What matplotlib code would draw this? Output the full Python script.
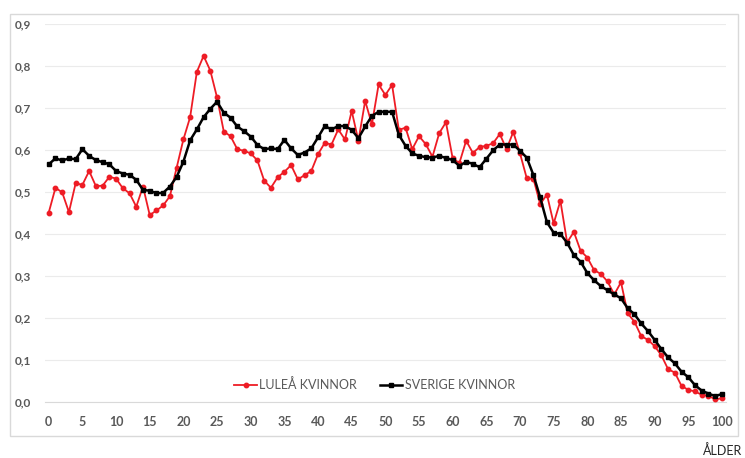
import matplotlib
matplotlib.use("Agg")
import matplotlib.pyplot as plt
import matplotlib.ticker as ticker
from matplotlib.patches import Rectangle

# Ages 0..100
ages = list(range(0, 101))

# LULEÅ KVINNOR (red)
lulea = [0.451, 0.510, 0.499, 0.452, 0.521, 0.517, 0.550, 0.514, 0.515, 0.536,
         0.532, 0.509, 0.497, 0.465, 0.513, 0.445, 0.456, 0.468, 0.490, 0.558,
         0.625, 0.678, 0.786, 0.824, 0.789, 0.725, 0.644, 0.633, 0.602, 0.598,
         0.592, 0.575, 0.527, 0.510, 0.535, 0.548, 0.564, 0.530, 0.540, 0.550,
         0.590, 0.617, 0.613, 0.649, 0.625, 0.693, 0.622, 0.717, 0.661, 0.756,
         0.731, 0.755, 0.648, 0.653, 0.602, 0.633, 0.614, 0.584, 0.640, 0.666,
         0.580, 0.569, 0.622, 0.593, 0.607, 0.610, 0.616, 0.638, 0.602, 0.643,
         0.592, 0.533, 0.531, 0.471, 0.494, 0.425, 0.479, 0.380, 0.405, 0.360,
         0.344, 0.314, 0.305, 0.287, 0.256, 0.285, 0.211, 0.191, 0.157, 0.148,
         0.133, 0.111, 0.078, 0.070, 0.038, 0.029, 0.025, 0.017, 0.015, 0.006,
         0.009]

# SVERIGE KVINNOR (black)
sverige = [0.566, 0.580, 0.575, 0.580, 0.578, 0.602, 0.586, 0.576, 0.571, 0.566,
           0.550, 0.544, 0.541, 0.529, 0.505, 0.503, 0.497, 0.498, 0.513, 0.536,
           0.572, 0.623, 0.649, 0.678, 0.698, 0.715, 0.689, 0.677, 0.656, 0.645,
           0.632, 0.612, 0.602, 0.604, 0.602, 0.624, 0.604, 0.588, 0.594, 0.604,
           0.630, 0.657, 0.649, 0.657, 0.657, 0.648, 0.628, 0.656, 0.681, 0.691,
           0.691, 0.691, 0.636, 0.610, 0.592, 0.586, 0.583, 0.582, 0.586, 0.581,
           0.576, 0.562, 0.572, 0.567, 0.559, 0.579, 0.599, 0.613, 0.613, 0.613,
           0.598, 0.582, 0.540, 0.487, 0.428, 0.403, 0.400, 0.379, 0.350, 0.334,
           0.307, 0.290, 0.276, 0.266, 0.256, 0.247, 0.223, 0.209, 0.187, 0.169,
           0.148, 0.126, 0.106, 0.092, 0.072, 0.059, 0.040, 0.027, 0.020, 0.014,
           0.019]

xticks = list(range(0, 101, 5))
yticks = [0.0, 0.1, 0.2, 0.3, 0.4, 0.5, 0.6, 0.7, 0.8, 0.9]

plt.rcParams['font.family'] = ['Lato', 'DejaVu Sans']

fig = plt.figure(figsize=(7.45, 4.58), dpi=100)
ax = fig.add_axes([0.060, 0.1223, 0.9145, 0.8253])

# chart border
fig.patches.append(Rectangle((10 / 745, 1 - 436 / 458), 728 / 745, 422 / 458,
                             transform=fig.transFigure, fill=False,
                             edgecolor="#d9d9d9", linewidth=1.0))

ax.plot(ages, lulea, color="#ee1c25", lw=1.3, marker="o", ms=3.2,
        label="LULEÅ KVINNOR", zorder=3)
ax.plot(ages, sverige, color="black", lw=1.8, marker="s", ms=3.2,
        label="SVERIGE KVINNOR", zorder=4)

ax.set_xlim(-0.6, 100.6)
ax.set_ylim(0, 0.9)
ax.set_xticks(xticks)
ax.set_yticks(yticks)
ax.yaxis.set_major_formatter(ticker.FuncFormatter(lambda v, p: f"{v:.1f}".replace(".", ",")))

ax.grid(axis="y", color="#ebebeb", lw=0.8)
ax.set_axisbelow(True)
for s in ["top", "right", "left"]:
    ax.spines[s].set_visible(False)
ax.spines["bottom"].set_color("#d9d9d9")
ax.tick_params(length=0, colors="#595959", labelsize=8.5)
ax.tick_params(axis="x", pad=10, labelsize=9)
ax.tick_params(axis="y", pad=10)
for lbl in ax.get_xticklabels() + ax.get_yticklabels():
    lbl.set_fontweight("bold")

leg = ax.legend(loc="center", bbox_to_anchor=(0.484, 0.045), ncol=2, frameon=False,
                fontsize=9, handlelength=1.8, handletextpad=0.2, columnspacing=1.8)
for t in leg.get_texts():
    t.set_color("#595959")

fig.text(742 / 745, 1 - 451 / 458, "ÅLDER", ha="right", va="center",
         fontsize=9, color="#262626")

fig.savefig("out.png", dpi=100)
